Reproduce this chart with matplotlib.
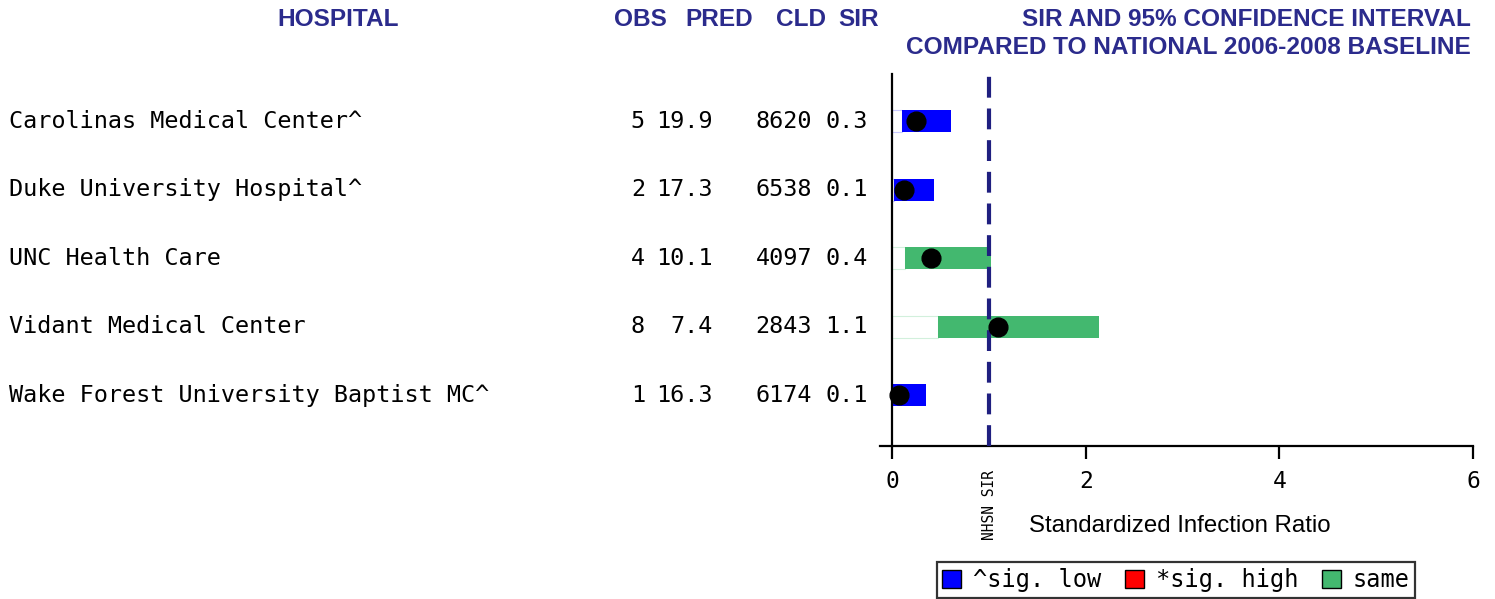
import matplotlib.pyplot as plt
import matplotlib.transforms as mtransforms
from matplotlib.patches import Patch

# datos
hospitals = ["Carolinas Medical Center^", "Duke University Hospital^", "UNC Health Care",
             "Vidant Medical Center", "Wake Forest University Baptist MC^"]
obs = ["5", "2", "4", "8", "1"]
pred = ["19.9", "17.3", "10.1", "7.4", "16.3"]
cld = ["8620", "6538", "4097", "2843", "6174"]
sir_txt = ["0.3", "0.1", "0.4", "1.1", "0.1"]
sir = [0.25, 0.12, 0.40, 1.09, 0.07]
ci_low = [0.10, 0.02, 0.13, 0.48, 0.0]
ci_high = [0.61, 0.43, 1.02, 2.14, 0.35]
status = ["low", "low", "same", "same", "low"]
nhsn_sir = 1.0

colors = {"low": "#0000FF", "high": "#FF0000", "same": "#43B86F"}
edge_light = {"low": "#C8C8FF", "high": "#FFC8C8", "same": "#D2F0DC"}
navy = "#2B2B8C"
mono = "DejaVu Sans Mono"
sans = "Liberation Sans"

fig = plt.figure(figsize=(14.95, 5.99), dpi=100)
W, H = 1495, 599
ax = fig.add_axes([880 / W, 1 - 446 / H, (1473 - 880) / W, (446 - 74) / H])

y = list(range(1, len(hospitals) + 1))

# barras: parte invisible hasta el limite inferior + intervalo de confianza
for i in range(len(hospitals)):
    ax.barh(y[i], ci_low[i], left=0, height=0.32, color="white",
            edgecolor=edge_light[status[i]], linewidth=0.8, zorder=2)
    ax.barh(y[i], ci_high[i] - ci_low[i], left=ci_low[i], height=0.32,
            color=colors[status[i]], linewidth=0, zorder=2)

ax.axvline(nhsn_sir, color="#1F1F80", linewidth=3, dashes=(5, 2.6), zorder=3)
ax.plot(sir, y, "o", color="black", markersize=13.5, zorder=4)

ax.set_xlim(-0.124, 6)
ax.set_ylim(5.74, 0.31)
ax.set_xticks([0, 2, 4, 6])
ax.set_yticks([])
ax.spines["top"].set_visible(False)
ax.spines["right"].set_visible(False)
ax.spines["left"].set_position(("data", 0))
ax.spines["left"].set_linewidth(1.6)
ax.spines["bottom"].set_linewidth(1.6)
ax.tick_params(axis="x", length=9, width=1.6, pad=8, labelsize=16.5)
for lab in ax.get_xticklabels():
    lab.set_fontfamily(mono)

# textos de la tabla
fs = 16.9
trans = mtransforms.blended_transform_factory(fig.transFigure, ax.transData)
for i in range(len(hospitals)):
    ax.text(9 / W, y[i], hospitals[i], transform=trans, ha="left", va="center",
            fontsize=fs, family=mono)
    ax.text(645 / W, y[i], obs[i], transform=trans, ha="right", va="center",
            fontsize=fs, family=mono)
    ax.text(713 / W, y[i], pred[i], transform=trans, ha="right", va="center",
            fontsize=fs, family=mono)
    ax.text(812 / W, y[i], cld[i], transform=trans, ha="right", va="center",
            fontsize=fs, family=mono)
    ax.text(868 / W, y[i], sir_txt[i], transform=trans, ha="right", va="center",
            fontsize=fs, family=mono)

# encabezados
hdr = dict(fontsize=17.6, fontweight="bold", color=navy, family=sans, va="center")
fig.text(338 / W, 1 - 19 / H, "HOSPITAL", ha="center", **hdr)
fig.text(640 / W, 1 - 19 / H, "OBS", ha="center", **hdr)
fig.text(719 / W, 1 - 19 / H, "PRED", ha="center", **hdr)
fig.text(801 / W, 1 - 19 / H, "CLD", ha="center", **hdr)
fig.text(859 / W, 1 - 19 / H, "SIR", ha="center", **hdr)
fig.text(1471 / W, 1 - 19 / H, "SIR AND 95% CONFIDENCE INTERVAL", ha="right", **hdr)
fig.text(1471 / W, 1 - 48 / H, "COMPARED TO NATIONAL 2006-2008 BASELINE", ha="right", **hdr)

# etiquetas del eje
fig.text(989 / W, 1 - 505 / H, "NHSN SIR", rotation=90, ha="center", va="center",
         fontsize=10.5, family=mono)
fig.text(1180 / W, 1 - 526 / H, "Standardized Infection Ratio", ha="center", va="center",
         fontsize=17.3, family=sans)

# leyenda
handles = [Patch(facecolor=colors["low"], edgecolor="black", label="^sig. low"),
           Patch(facecolor=colors["high"], edgecolor="black", label="*sig. high"),
           Patch(facecolor=colors["same"], edgecolor="black", label="same")]
leg = fig.legend(handles=handles, loc="center", bbox_to_anchor=(1176 / W, 1 - 580 / H),
                 ncol=3, frameon=True, fancybox=False, prop={"family": mono, "size": 17},
                 handlelength=0.8, handleheight=0.8, handletextpad=0.5, columnspacing=1.0,
                 borderpad=0.25, borderaxespad=0)
leg.get_frame().set_edgecolor("black")
leg.get_frame().set_linewidth(1.6)

plt.savefig("out.png", dpi=100)
